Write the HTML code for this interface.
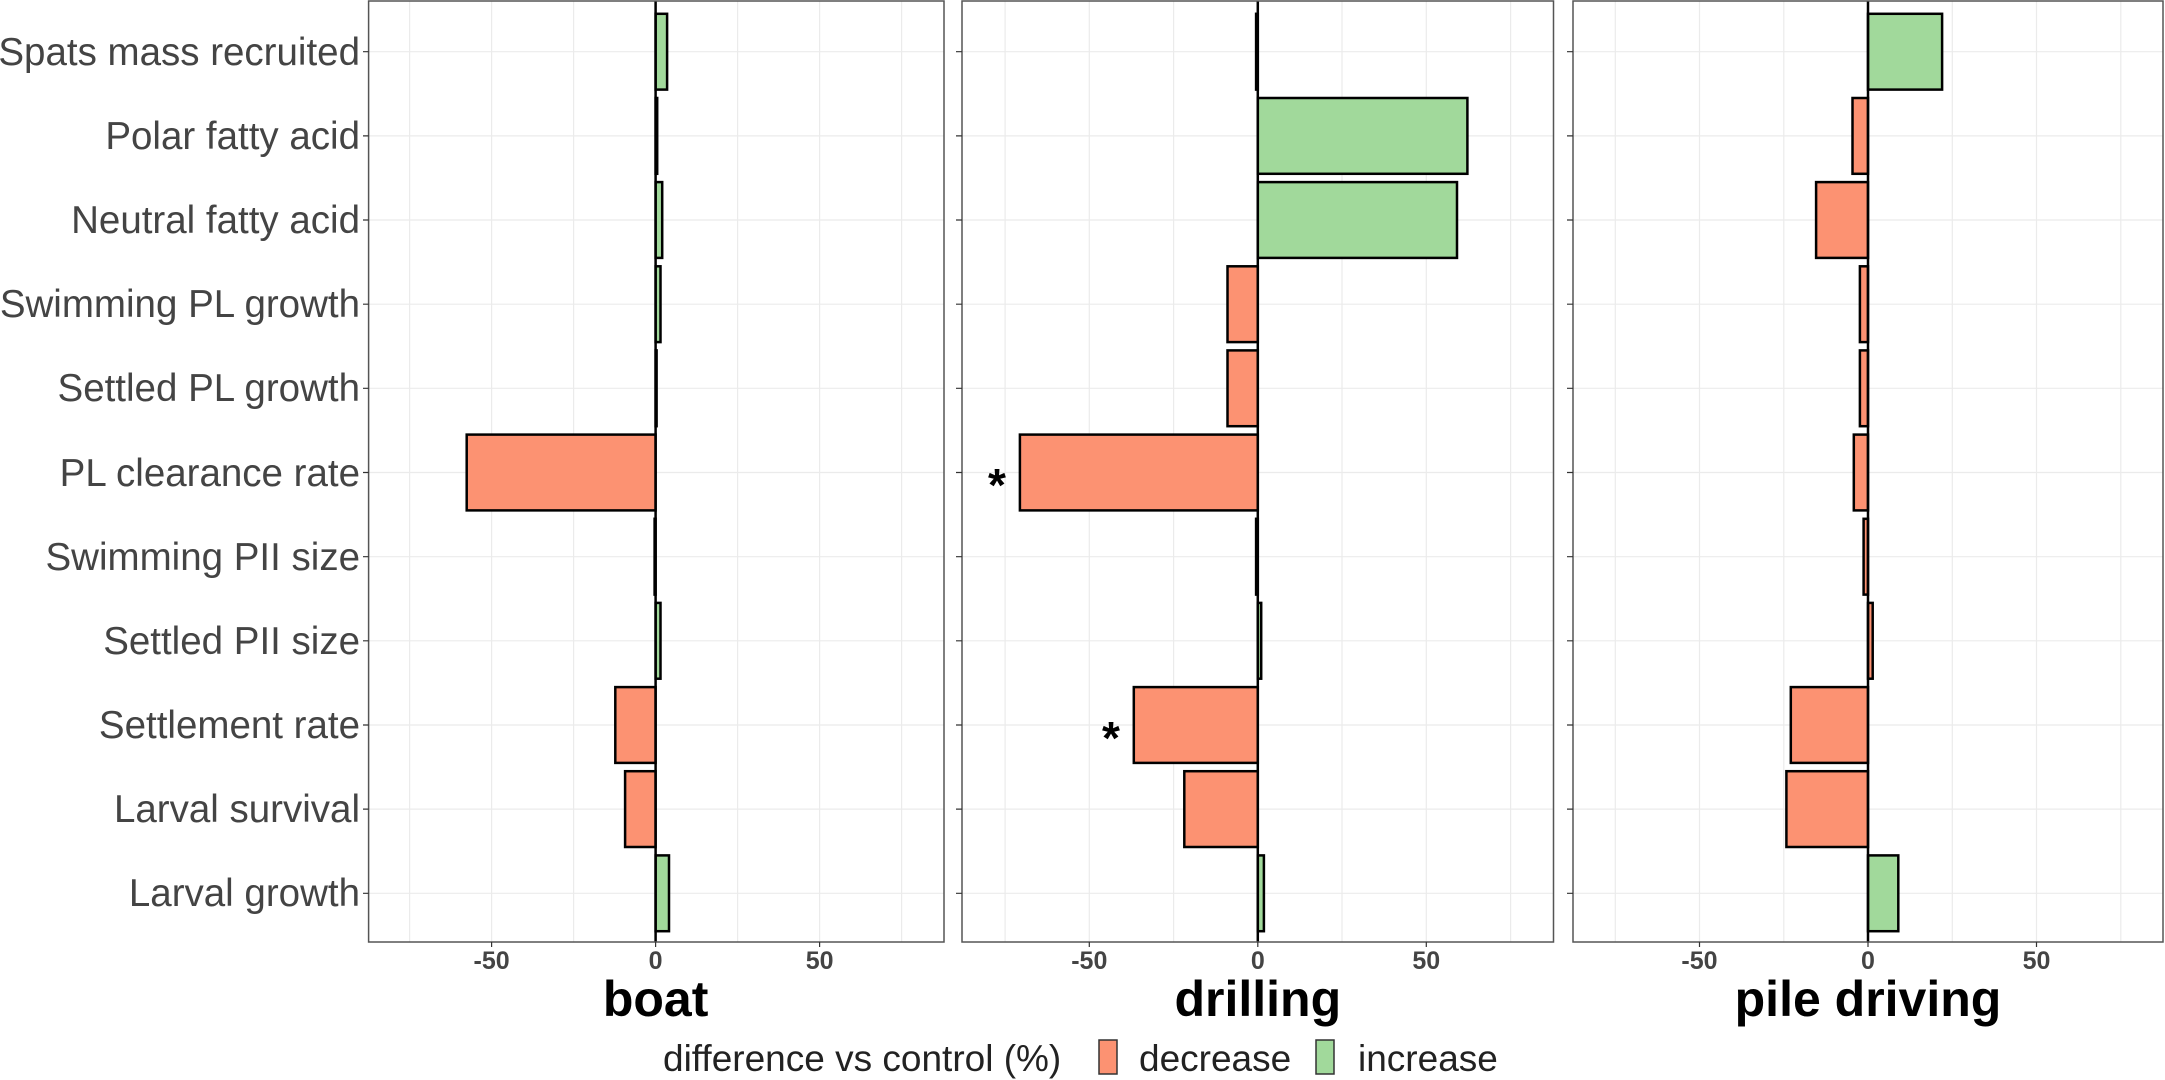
<!DOCTYPE html>
<html><head><meta charset="utf-8"><style>html,body{margin:0;padding:0;background:#fff}svg{display:block}</style></head>
<body>
<svg width="2165" height="1080" xmlns="http://www.w3.org/2000/svg" font-family="Liberation Sans, Arial, sans-serif">
<rect width="2165" height="1080" fill="#fff"/>
<g stroke="#ebebeb" stroke-width="1.2">
<g>
<line x1="368.6" x2="944" y1="51.7" y2="51.7"/><line x1="368.6" x2="944" y1="135.9" y2="135.9"/><line x1="368.6" x2="944" y1="220" y2="220"/><line x1="368.6" x2="944" y1="304.2" y2="304.2"/><line x1="368.6" x2="944" y1="388.3" y2="388.3"/><line x1="368.6" x2="944" y1="472.5" y2="472.5"/><line x1="368.6" x2="944" y1="556.7" y2="556.7"/><line x1="368.6" x2="944" y1="640.8" y2="640.8"/><line x1="368.6" x2="944" y1="725" y2="725"/><line x1="368.6" x2="944" y1="809.1" y2="809.1"/><line x1="368.6" x2="944" y1="893.3" y2="893.3"/>
</g>
<g><line x1="962" x2="1553.5" y1="51.7" y2="51.7"/><line x1="962" x2="1553.5" y1="135.9" y2="135.9"/><line x1="962" x2="1553.5" y1="220" y2="220"/><line x1="962" x2="1553.5" y1="304.2" y2="304.2"/><line x1="962" x2="1553.5" y1="388.3" y2="388.3"/><line x1="962" x2="1553.5" y1="472.5" y2="472.5"/><line x1="962" x2="1553.5" y1="556.7" y2="556.7"/><line x1="962" x2="1553.5" y1="640.8" y2="640.8"/><line x1="962" x2="1553.5" y1="725" y2="725"/><line x1="962" x2="1553.5" y1="809.1" y2="809.1"/><line x1="962" x2="1553.5" y1="893.3" y2="893.3"/></g>
<g><line x1="1573" x2="2163" y1="51.7" y2="51.7"/><line x1="1573" x2="2163" y1="135.9" y2="135.9"/><line x1="1573" x2="2163" y1="220" y2="220"/><line x1="1573" x2="2163" y1="304.2" y2="304.2"/><line x1="1573" x2="2163" y1="388.3" y2="388.3"/><line x1="1573" x2="2163" y1="472.5" y2="472.5"/><line x1="1573" x2="2163" y1="556.7" y2="556.7"/><line x1="1573" x2="2163" y1="640.8" y2="640.8"/><line x1="1573" x2="2163" y1="725" y2="725"/><line x1="1573" x2="2163" y1="809.1" y2="809.1"/><line x1="1573" x2="2163" y1="893.3" y2="893.3"/></g>
<g>
<line y1="1" y2="942" x1="409.6" x2="409.6"/><line y1="1" y2="942" x1="491.6" x2="491.6"/><line y1="1" y2="942" x1="573.6" x2="573.6"/><line y1="1" y2="942" x1="737.6" x2="737.6"/><line y1="1" y2="942" x1="819.6" x2="819.6"/><line y1="1" y2="942" x1="901.6" x2="901.6"/>
<line y1="1" y2="942" x1="1005.1" x2="1005.1"/><line y1="1" y2="942" x1="1089.3" x2="1089.3"/><line y1="1" y2="942" x1="1173.6" x2="1173.6"/><line y1="1" y2="942" x1="1342" x2="1342"/><line y1="1" y2="942" x1="1426.3" x2="1426.3"/><line y1="1" y2="942" x1="1510.6" x2="1510.6"/>
<line y1="1" y2="942" x1="1615.3" x2="1615.3"/><line y1="1" y2="942" x1="1699.5" x2="1699.5"/><line y1="1" y2="942" x1="1783.8" x2="1783.8"/><line y1="1" y2="942" x1="1952.3" x2="1952.3"/><line y1="1" y2="942" x1="2036.5" x2="2036.5"/><line y1="1" y2="942" x1="2120.8" x2="2120.8"/>
</g>
</g>
<g stroke="#000" stroke-width="2.5">
<rect x="655.6" y="13.8" width="11.5" height="75.8" fill="#a1d99b"/>
<rect x="655.6" y="98" width="1.6" height="75.8" fill="#a1d99b"/>
<rect x="655.6" y="182.1" width="6.6" height="75.8" fill="#a1d99b"/>
<rect x="655.6" y="266.3" width="4.9" height="75.8" fill="#a1d99b"/>
<rect x="655.6" y="350.4" width="1" height="75.8" fill="#a1d99b"/>
<rect x="466.7" y="434.6" width="188.9" height="75.8" fill="#fc9272"/>
<rect x="654.6" y="518.8" width="1" height="75.8" fill="#fc9272"/>
<rect x="655.6" y="602.9" width="4.9" height="75.8" fill="#a1d99b"/>
<rect x="615.3" y="687.1" width="40.3" height="75.8" fill="#fc9272"/>
<rect x="625.1" y="771.2" width="30.5" height="75.8" fill="#fc9272"/>
<rect x="655.6" y="855.4" width="13.4" height="75.8" fill="#a1d99b"/>
<rect x="1256.1" y="13.8" width="1.7" height="75.8" fill="#fc9272"/>
<rect x="1257.8" y="98" width="209.6" height="75.8" fill="#a1d99b"/>
<rect x="1257.8" y="182.1" width="199.2" height="75.8" fill="#a1d99b"/>
<rect x="1227.5" y="266.3" width="30.3" height="75.8" fill="#fc9272"/>
<rect x="1227.5" y="350.4" width="30.3" height="75.8" fill="#fc9272"/>
<rect x="1019.9" y="434.6" width="237.9" height="75.8" fill="#fc9272"/>
<rect x="1256.1" y="518.8" width="1.7" height="75.8" fill="#fc9272"/>
<rect x="1257.8" y="602.9" width="3.4" height="75.8" fill="#a1d99b"/>
<rect x="1133.8" y="687.1" width="124" height="75.8" fill="#fc9272"/>
<rect x="1184.3" y="771.2" width="73.5" height="75.8" fill="#fc9272"/>
<rect x="1257.8" y="855.4" width="6.1" height="75.8" fill="#a1d99b"/>
<rect x="1868" y="13.8" width="74.1" height="75.8" fill="#a1d99b"/>
<rect x="1852.5" y="98" width="15.5" height="75.8" fill="#fc9272"/>
<rect x="1816.1" y="182.1" width="51.9" height="75.8" fill="#fc9272"/>
<rect x="1859.9" y="266.3" width="8.1" height="75.8" fill="#fc9272"/>
<rect x="1859.9" y="350.4" width="8.1" height="75.8" fill="#fc9272"/>
<rect x="1853.8" y="434.6" width="14.2" height="75.8" fill="#fc9272"/>
<rect x="1863.6" y="518.8" width="4.4" height="75.8" fill="#fc9272"/>
<rect x="1868" y="602.9" width="4.7" height="75.8" fill="#fc9272"/>
<rect x="1790.8" y="687.1" width="77.2" height="75.8" fill="#fc9272"/>
<rect x="1786.4" y="771.2" width="81.6" height="75.8" fill="#fc9272"/>
<rect x="1868" y="855.4" width="30.3" height="75.8" fill="#a1d99b"/>
</g>
<g stroke="#000" stroke-width="2.5">
<line x1="655.6" x2="655.6" y1="1" y2="942"/><line x1="1257.8" x2="1257.8" y1="1" y2="942"/><line x1="1868" x2="1868" y1="1" y2="942"/>
</g>
<g fill="none" stroke="#555" stroke-width="1.5">
<rect x="368.6" y="1" width="575.4" height="941"/>
<rect x="962" y="1" width="591.5" height="941"/>
<rect x="1573" y="1" width="590" height="941"/>
</g>
<g stroke="#333" stroke-width="1.2">
<path d="M363 51.7h5.6M363 135.9h5.6M363 220h5.6M363 304.2h5.6M363 388.3h5.6M363 472.5h5.6M363 556.7h5.6M363 640.8h5.6M363 725h5.6M363 809.1h5.6M363 893.3h5.6"/>
<path d="M956 51.7h6M956 135.9h6M956 220h6M956 304.2h6M956 388.3h6M956 472.5h6M956 556.7h6M956 640.8h6M956 725h6M956 809.1h6M956 893.3h6"/>
<path d="M1567 51.7h6M1567 135.9h6M1567 220h6M1567 304.2h6M1567 388.3h6M1567 472.5h6M1567 556.7h6M1567 640.8h6M1567 725h6M1567 809.1h6M1567 893.3h6"/>
<path d="M491.6 942v5M655.6 942v5M819.6 942v5M1089.3 942v5M1257.8 942v5M1426.3 942v5M1699.5 942v5M1868 942v5M2036.5 942v5"/>
</g>
<g font-size="38.5" fill="#444" text-anchor="end">
<text x="360" y="65">Spats mass recruited</text>
<text x="360" y="149">Polar fatty acid</text>
<text x="360" y="233">Neutral fatty acid</text>
<text x="360" y="317">Swimming PL growth</text>
<text x="360" y="401">Settled PL growth</text>
<text x="360" y="486">PL clearance rate</text>
<text x="360" y="570">Swimming PII size</text>
<text x="360" y="654">Settled PII size</text>
<text x="360" y="738">Settlement rate</text>
<text x="360" y="822">Larval survival</text>
<text x="360" y="906">Larval growth</text>
</g>
<g font-size="25" font-weight="bold" fill="#444" text-anchor="middle">
<text x="491.6" y="969">-50</text><text x="655.6" y="969">0</text><text x="819.6" y="969">50</text>
<text x="1089.3" y="969">-50</text><text x="1257.8" y="969">0</text><text x="1426.3" y="969">50</text>
<text x="1699.5" y="969">-50</text><text x="1868" y="969">0</text><text x="2036.5" y="969">50</text>
</g>
<g font-size="50" font-weight="bold" fill="#000" text-anchor="middle">
<text x="655.6" y="1016">boat</text>
<text x="1257.8" y="1016">drilling</text>
<text x="1868" y="1016">pile driving</text>
</g>
<g font-size="46" font-weight="bold" fill="#000" text-anchor="middle">
<text x="997" y="501">*</text>
<text x="1111" y="754">*</text>
</g>
<g font-size="37" fill="#222">
<text x="663" y="1071">difference vs control (%)</text>
<rect x="1099" y="1040" width="18" height="34" fill="#fc9272" stroke="#333" stroke-width="1.5"/>
<text x="1139" y="1071">decrease</text>
<rect x="1316" y="1040" width="18" height="34" fill="#a1d99b" stroke="#333" stroke-width="1.5"/>
<text x="1358" y="1071">increase</text>
</g>
</svg>
</body></html>
